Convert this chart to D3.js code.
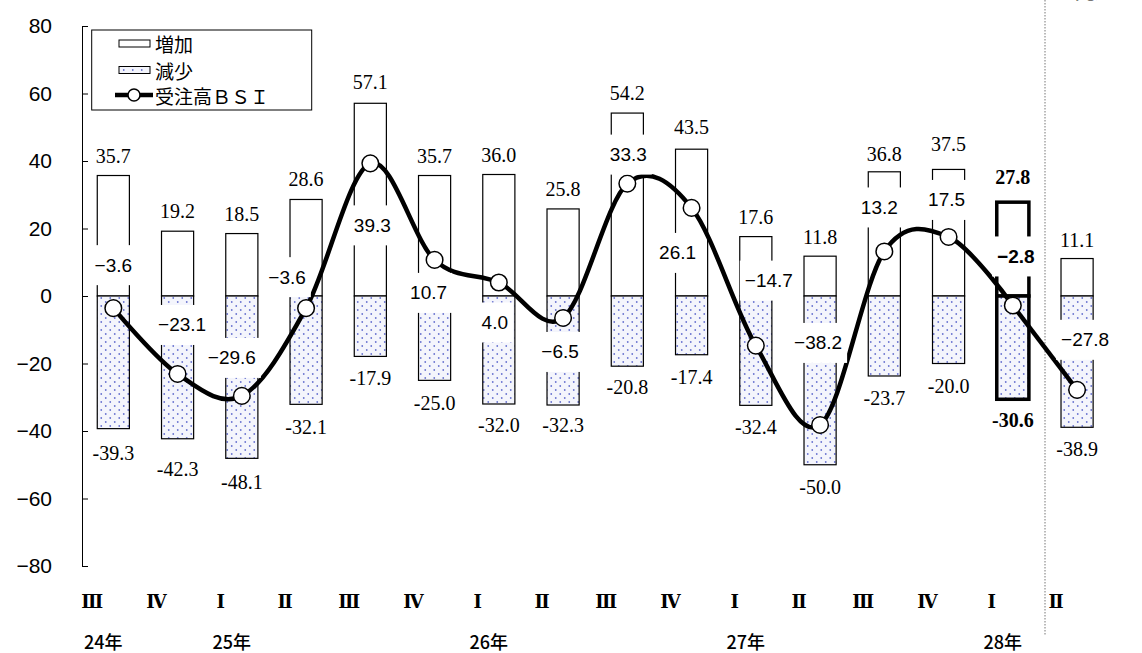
<!DOCTYPE html>
<html>
<head>
<meta charset="utf-8">
<script src="https://cdn.jsdelivr.net/npm/d3@7"></script>
<style>
  body { margin: 0; background: #fff; }
  svg { display: block; }
</style>
</head>
<body>
<svg id="chart" width="1142" height="653"></svg>
<script>
// Quarterly order BSI: share of "increase" and "decrease" answers and the balance
const quarters = ["Ⅲ","Ⅳ","Ⅰ","Ⅱ","Ⅲ","Ⅳ","Ⅰ","Ⅱ","Ⅲ","Ⅳ","Ⅰ","Ⅱ","Ⅲ","Ⅳ","Ⅰ","Ⅱ"];
const years    = ["24年","","25年","","","","26年","","","","27年","","","","28年",""];
const increase = [35.7, 19.2, 18.5, 28.6, 57.1, 35.7, 36.0, 25.8, 54.2, 43.5, 17.6, 11.8, 36.8, 37.5, 27.8, 11.1];
const decrease = [-39.3, -42.3, -48.1, -32.1, -17.9, -25.0, -32.0, -32.3, -20.8, -17.4, -32.4, -50.0, -23.7, -20.0, -30.6, -38.9];
const bsi      = [-3.6, -23.1, -29.6, -3.6, 39.3, 10.7, 4.0, -6.5, 33.3, 26.1, -14.7, -38.2, 13.2, 17.5, -2.8, -27.8];
const yTicks   = [-80, -60, -40, -20, 0, 20, 40, 60, 80];

const latest = 14;    // most recent actual quarter (drawn bold)
const forecast = 15;  // outlook quarter

// Label placement nudges (pixels)
const incLabelDy = [-20,-20,-20,-20,-21,-20,-20,-20,-20,-22,-20,-19,-18,-25,-25,-18.5];
const decLabelDy = [24,30,24,23,22,23,21,20,21,22,22,22,22,22,21,22];
const bsiLabelDx = [0, 4.5, -10, -19, 2, -6, -4, -3, 1, -14, 13, -2, -5, -2, 3, 8];
const bsiLabelDy = [-43, -49, -38, -31, 62, 33, 40, 34, -29, 45, -65, -82, -44, -37, -49, -50];

const svg = d3.select("#chart");

const x = d3.scaleBand()
  .domain(d3.range(quarters.length))
  .range([81.2, 1109.2])
  .paddingInner(0.5)
  .paddingOuter(0.25);
const y = d3.scaleLinear().domain([-80, 80]).range([566, 26]);
const cx = i => x(i) + x.bandwidth() / 2;

// dotted fill for the "decrease" bars
const defs = svg.append("defs");
const pat = defs.append("pattern")
  .attr("id", "dots").attr("patternUnits", "userSpaceOnUse")
  .attr("width", 9).attr("height", 8);
pat.append("rect").attr("width", 9).attr("height", 8).attr("fill", "#f4f5fc");
pat.append("circle").attr("cx", 2.25).attr("cy", 2).attr("r", 0.9).attr("fill", "#6a74d0");
pat.append("circle").attr("cx", 6.75).attr("cy", 6).attr("r", 0.9).attr("fill", "#6a74d0");

// outlook divider
svg.append("line")
  .attr("x1", 1045).attr("x2", 1045).attr("y1", 0).attr("y2", 635)
  .attr("stroke", "#777").attr("stroke-width", 1).attr("stroke-dasharray", "1.5,1.5");

svg.append("text")
  .attr("x", 1075).attr("y", -1)
  .attr("font-family", "'Noto Sans CJK JP', sans-serif").attr("font-size", 20)
  .attr("fill", "#000").text("見通し");

// y axis, ticks pointing inward
const yAxis = d3.axisLeft(y).tickValues(yTicks).tickSizeInner(-6).tickSizeOuter(0).tickPadding(30);
const gy = svg.append("g").attr("transform", "translate(82,0)").call(yAxis);
gy.selectAll("path, line").attr("stroke", "#000").attr("stroke-width", 1);
gy.selectAll("text")
  .attr("font-family", "'Liberation Sans', Arial, sans-serif")
  .attr("font-size", 21).attr("fill", "#000");

// bars
const sw = i => i === latest ? 3.5 : 1.2;
svg.append("g").selectAll("rect.inc").data(increase).join("rect")
  .attr("x", (d, i) => x(i)).attr("width", x.bandwidth())
  .attr("y", d => y(d)).attr("height", d => y(0) - y(d))
  .attr("fill", "#fff").attr("stroke", "#000").attr("stroke-width", (d, i) => sw(i));
svg.append("g").selectAll("rect.dec").data(decrease).join("rect")
  .attr("x", (d, i) => x(i)).attr("width", x.bandwidth())
  .attr("y", y(0)).attr("height", d => y(d) - y(0))
  .attr("fill", "url(#dots)").attr("stroke", "#000").attr("stroke-width", (d, i) => sw(i));

// value labels of the bars
const fmt = d3.format(".1f");
const serif = "'Liberation Serif', 'Times New Roman', serif";
svg.append("g").selectAll("text").data(increase).join("text")
  .attr("x", (d, i) => cx(i)).attr("y", (d, i) => y(d) + incLabelDy[i])
  .attr("dominant-baseline", "central").attr("text-anchor", "middle")
  .attr("font-family", serif).attr("font-size", 20)
  .attr("font-weight", (d, i) => i === latest ? "bold" : "normal")
  .text(d => fmt(d));
svg.append("g").selectAll("text").data(decrease).join("text")
  .attr("x", (d, i) => cx(i)).attr("y", (d, i) => y(d) + decLabelDy[i])
  .attr("dominant-baseline", "central").attr("text-anchor", "middle")
  .attr("font-family", serif).attr("font-size", 20)
  .attr("font-weight", (d, i) => i === latest ? "bold" : "normal")
  .text(d => "-" + fmt(Math.abs(d)));

// BSI line: smoothed through actual quarters, straight to the outlook
const pts = bsi.map((v, i) => [cx(i), y(v)]);
svg.append("path")
  .attr("d", d3.line().curve(d3.curveCardinal.tension(0))(pts.slice(0, latest + 1)))
  .attr("fill", "none").attr("stroke", "#000").attr("stroke-width", 4.5);
svg.append("path")
  .attr("d", d3.line()(pts.slice(latest, forecast + 1)))
  .attr("fill", "none").attr("stroke", "#000").attr("stroke-width", 4.5);
svg.append("g").selectAll("circle").data(pts).join("circle")
  .attr("cx", d => d[0]).attr("cy", d => d[1]).attr("r", 8.3)
  .attr("fill", "#fff").attr("stroke", "#000").attr("stroke-width", 1.5);

// BSI labels with white boxes
const bsiFmt = v => (v < 0 ? "−" : "") + fmt(Math.abs(v));
const lg = svg.append("g").selectAll("g").data(bsi).join("g")
  .attr("transform", (d, i) => `translate(${cx(i) + bsiLabelDx[i]},${y(d) + bsiLabelDy[i]})`);
lg.append("text")
  .attr("text-anchor", "middle").attr("dominant-baseline", "central")
  .attr("font-family", "'Liberation Sans', Arial, sans-serif").attr("font-size", 19)
  .attr("font-weight", (d, i) => i === latest ? "bold" : "normal")
  .text(bsiFmt);
lg.each(function () {
  const g = d3.select(this);
  const w = g.select("text").node().getComputedTextLength() + 10;
  g.insert("rect", "text").attr("x", -w / 2).attr("y", -20).attr("width", w).attr("height", 40).attr("fill", "#fff");
});

// category labels
svg.append("g").selectAll("text").data(quarters).join("text")
  .attr("x", (d, i) => cx(i) - 21).attr("y", 601)
  .attr("text-anchor", "middle").attr("dominant-baseline", "central")
  .attr("font-family", "'DejaVu Serif', serif").attr("font-size", 18).attr("font-weight", "bold")
  .text(d => d);
svg.append("g").selectAll("text").data(years).join("text")
  .attr("x", (d, i) => cx(i) - 10).attr("y", 641)
  .attr("text-anchor", "middle").attr("dominant-baseline", "central")
  .attr("font-family", "'Noto Sans CJK JP', sans-serif").attr("font-size", 18).attr("font-weight", 500)
  .text(d => d);

// legend
const leg = svg.append("g");
leg.append("rect").attr("x", 91.7).attr("y", 30).attr("width", 220).attr("height", 80)
  .attr("fill", "#fff").attr("stroke", "#000").attr("stroke-width", 1);
const legFont = "'Noto Sans CJK JP', sans-serif";
leg.append("rect").attr("x", 119).attr("y", 40).attr("width", 31).attr("height", 7)
  .attr("fill", "#fff").attr("stroke", "#000").attr("stroke-width", 1);
leg.append("rect").attr("x", 119).attr("y", 66.5).attr("width", 31).attr("height", 7)
  .attr("fill", "url(#dots)").attr("stroke", "#000").attr("stroke-width", 1);
leg.append("line").attr("x1", 115).attr("x2", 153).attr("y1", 95).attr("y2", 95)
  .attr("stroke", "#000").attr("stroke-width", 4.5);
leg.append("circle").attr("cx", 134).attr("cy", 95).attr("r", 6)
  .attr("fill", "#fff").attr("stroke", "#000").attr("stroke-width", 1.5);
[["増加", 43.5], ["減少", 70], ["受注高ＢＳＩ", 95]].forEach(([t, yy]) => {
  leg.append("text").attr("x", 155).attr("y", yy).attr("dominant-baseline", "central")
    .attr("font-family", legFont).attr("font-size", 19).text(t);
});
</script>
</body>
</html>
